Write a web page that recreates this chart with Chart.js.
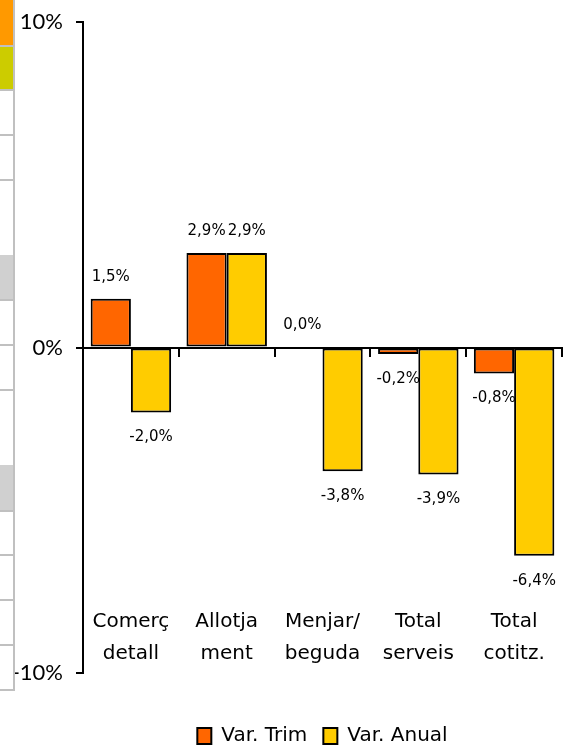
<!DOCTYPE html>
<html><head><meta charset="utf-8">
<script src="https://cdn.jsdelivr.net/npm/chart.js@4/dist/chart.umd.min.js"></script>
<style>
html,body{margin:0;padding:0;background:#fff;overflow:hidden;}
#wrap{position:relative;width:581px;height:745px;}
canvas{position:absolute;left:0;top:0;}
#strip{position:absolute;left:0;top:0;width:13px;height:690px;border-right:2px solid #c0c0c0;}
.cell{position:absolute;left:0;width:13px;}
.ln{position:absolute;left:0;width:15px;height:2px;background:#c0c0c0;}
</style></head>
<body><div id="wrap"><canvas id="c" width="581" height="745"></canvas>
<div id="strip">
<div class="cell" style="top:0;height:45px;background:#FF9900"></div>
<div class="cell" style="top:47px;height:42px;background:#CCCC00"></div>
<div class="cell" style="top:255px;height:44px;background:#D0D0D0"></div>
<div class="cell" style="top:465px;height:45px;background:#D0D0D0"></div>
<div class="ln" style="top:45px"></div>
<div class="ln" style="top:89px"></div>
<div class="ln" style="top:134px"></div>
<div class="ln" style="top:179px"></div>
<div class="ln" style="top:299px"></div>
<div class="ln" style="top:344px"></div>
<div class="ln" style="top:389px"></div>
<div class="ln" style="top:510px"></div>
<div class="ln" style="top:554px"></div>
<div class="ln" style="top:599px"></div>
<div class="ln" style="top:644px"></div>
<div class="ln" style="top:689px"></div>
</div></div>
<script>
const categories = [['Comerç','detall'],['Allotja','ment'],['Menjar/','beguda'],['Total','serveis'],['Total','cotitz.']];
const varTrim = [1.5, 2.9, 0.0, -0.2, -0.8];
const varAnual = [-2.0, 2.9, -3.8, -3.9, -6.4];
const seriesNames = ['Var. Trim', 'Var. Anual'];
const yTicks = [-10, 0, 10];

const labelPlugin = {
  id: 'vals',
  afterDatasetsDraw(chart) {
    const ctx = chart.ctx;
    ctx.save();
    ctx.font = '15px "DejaVu Sans"';
    ctx.fillStyle = '#000';
    ctx.textAlign = 'center';
    ctx.textBaseline = 'middle';
    chart.data.datasets.forEach((ds, i) => {
      chart.getDatasetMeta(i).data.forEach((el, j) => {
        const v = ds.data[j];
        const t = v.toFixed(1).replace('.', ',') + '%';
        const y = v >= 0 ? el.y - 22 : el.y + 25;
        ctx.fillText(t, el.x, y);
      });
    });
    ctx.restore();
  }
};

new Chart(document.getElementById('c'), {
  type: 'bar',
  data: {
    labels: categories,
    datasets: [
      {label: seriesNames[0], data: varTrim, backgroundColor: '#FF6600', borderColor: '#000', borderWidth: 2, borderSkipped: false},
      {label: seriesNames[1], data: varAnual, backgroundColor: '#FFCC00', borderColor: '#000', borderWidth: 2, borderSkipped: false}
    ]
  },
  options: {
    responsive: false,
    animation: false,
    devicePixelRatio: 1,
    datasets: {bar: {categoryPercentage: 0.84, barPercentage: 1}},
    layout: {padding: {top: 22, left: 0, right: 19, bottom: -11}},
    plugins: {
      legend: {
        position: 'bottom', fullSize: false,
        labels: {boxWidth: 14, boxHeight: 16, padding: 16, color: '#000', font: {family: 'DejaVu Sans', size: 20}}
      },
      tooltip: {enabled: false}
    },
    scales: {
      x: {
        type: 'category', position: {y: 0}, offset: true,
        ticks: {display: false},
        grid: {offset: true, drawOnChartArea: false, drawTicks: true, tickLength: 8, color: '#000', lineWidth: 2},
        border: {display: true, color: '#000', width: 2}
      },
      xl: {
        type: 'category', position: {y: -7.94}, offset: true,
        ticks: {color: '#000', padding: 0, maxRotation: 0, autoSkip: false, font: {family: 'DejaVu Sans', size: 20, lineHeight: 1.6}},
        grid: {display: false, drawTicks: false},
        border: {display: false}
      },
      xpad: {
        type: 'category', position: 'bottom',
        ticks: {display: false},
        grid: {display: false, drawTicks: false},
        border: {display: false},
        afterFit: s => { s.height = 37; }
      },
      y: {
        type: 'linear', position: 'left', min: -10, max: 10,
        afterBuildTicks: s => { s.ticks = yTicks.map(v => ({value: v})); },
        ticks: {color: '#000', padding: 13, callback: v => v + '%', font: {family: 'Lato', size: 22, lineHeight: 0.8}},
        grid: {drawOnChartArea: false, drawTicks: true, tickLength: 7, color: '#000', lineWidth: 2},
        border: {display: true, color: '#000', width: 2},
        afterFit: s => { s.width = 83; }
      }
    }
  },
  plugins: [labelPlugin]
});
</script>
</body></html>
